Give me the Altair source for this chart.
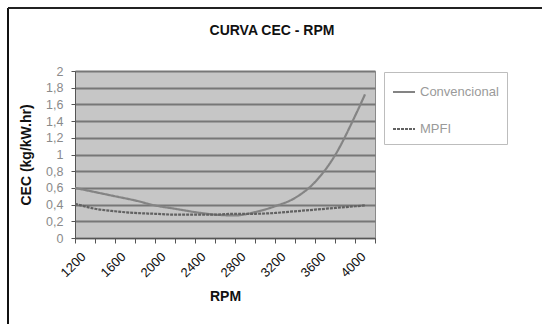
import altair as alt
import pandas as pd

rpm = [1200, 1400, 1600, 1800, 2000, 2200, 2400, 2600, 2800, 3000, 3200, 3400, 3600, 3800, 4000, 4100]
convencional = [0.60, 0.55, 0.50, 0.45, 0.39, 0.35, 0.31, 0.28, 0.27, 0.31, 0.38, 0.48, 0.67, 0.99, 1.46, 1.72]
mpfi = [0.41, 0.35, 0.32, 0.30, 0.29, 0.28, 0.28, 0.28, 0.29, 0.29, 0.30, 0.32, 0.34, 0.36, 0.38, 0.39]
series_names = ["Convencional", "MPFI"]
x_tick_values = [1200, 1400, 1600, 1800, 2000, 2200, 2400, 2600, 2800, 3000, 3200, 3400, 3600, 3800, 4000, 4200]
x_label_values = [1200, 1600, 2000, 2400, 2800, 3200, 3600, 4000]
y_tick_values = [0, 0.2, 0.4, 0.6, 0.8, 1.0, 1.2, 1.4, 1.6, 1.8, 2.0]

rows = []
for r, c, m in zip(rpm, convencional, mpfi):
    rows.append({"RPM": r, "CEC": c, "Serie": series_names[0]})
    rows.append({"RPM": r, "CEC": m, "Serie": series_names[1]})
df = pd.DataFrame(rows)

font = "Liberation Sans"
label_list = "[" + ",".join(str(v) for v in x_label_values) + "]"

lines = alt.Chart(df).mark_line(interpolate="monotone", strokeWidth=2.2, clip=True).encode(
    x=alt.X("RPM:Q",
            scale=alt.Scale(domain=[1200, 4200], nice=False, zero=False),
            axis=alt.Axis(values=x_tick_values, title="RPM", grid=False,
                          labelAngle=-45, labelFontSize=13, labelColor="#111111",
                          labelFont=font, labelPadding=7, labelOffset=4,
                          labelExpr="indexof(" + label_list + ", datum.value) >= 0 ? datum.label : ''",
                          format="d", tickSize=5, tickColor="#555555", domainColor="#555555",
                          titleFont=font, titleFontSize=14, titleFontWeight="bold",
                          titleColor="#111111", titlePadding=10)),
    y=alt.Y("CEC:Q",
            scale=alt.Scale(domain=[0, 2], nice=False),
            axis=alt.Axis(values=y_tick_values, title="CEC (kg/kW.hr)", grid=True,
                          gridColor="#777777", gridWidth=2,
                          format=".1~f", labelExpr="replace(datum.label, '.', ',')",
                          labelFontSize=12.5, labelColor="#8a8a8a", labelFont=font,
                          labelPadding=8, tickSize=4, tickColor="#555555", domainColor="#555555",
                          titleFont=font, titleFontSize=14, titleFontWeight="bold",
                          titleColor="#111111", titlePadding=12)),
    color=alt.Color("Serie:N",
                    scale=alt.Scale(domain=series_names, range=["#848484", "#626262"]),
                    legend=alt.Legend(title=None, orient="none", legendX=309, legendY=1,
                                      symbolType="stroke", symbolSize=484, symbolStrokeWidth=2,
                                      rowPadding=18, padding=8, labelFontSize=13,
                                      labelColor="#9a9a9a", labelFont=font, labelOffset=4,
                                      strokeColor="#bdbdbd", fillColor="#ffffff")),
    strokeDash=alt.StrokeDash("Serie:N",
                              scale=alt.Scale(domain=series_names, range=[[1, 0], [3, 1]]),
                              legend=None),
)

left_border = alt.Chart(df).mark_rule(color="#111111", strokeWidth=2, clip=False).encode(
    x=alt.value(-67), y=alt.value(-63), y2=alt.value(253)
)
top_border = alt.Chart(df).mark_rule(color="#222222", strokeWidth=1.5, clip=False).encode(
    y=alt.value(-63), x=alt.value(-67), x2=alt.value(467)
)

chart = alt.layer(lines, left_border, top_border).properties(
    width=300, height=167,
    autosize=alt.AutoSizeParams(type="none"),
    padding={"left": 75, "top": 71, "right": 167, "bottom": 86},
    title=alt.TitleParams("CURVA CEC - RPM", font=font, fontSize=14, fontWeight="bold",
                          color="#111111", anchor="middle", dx=47, offset=-31),
    background="#ffffff",
).configure_view(fill="#c6c6c6", stroke="#8a8a8a", strokeWidth=1)

chart.save("out.html", embed_options={"renderer": "svg", "actions": False})
